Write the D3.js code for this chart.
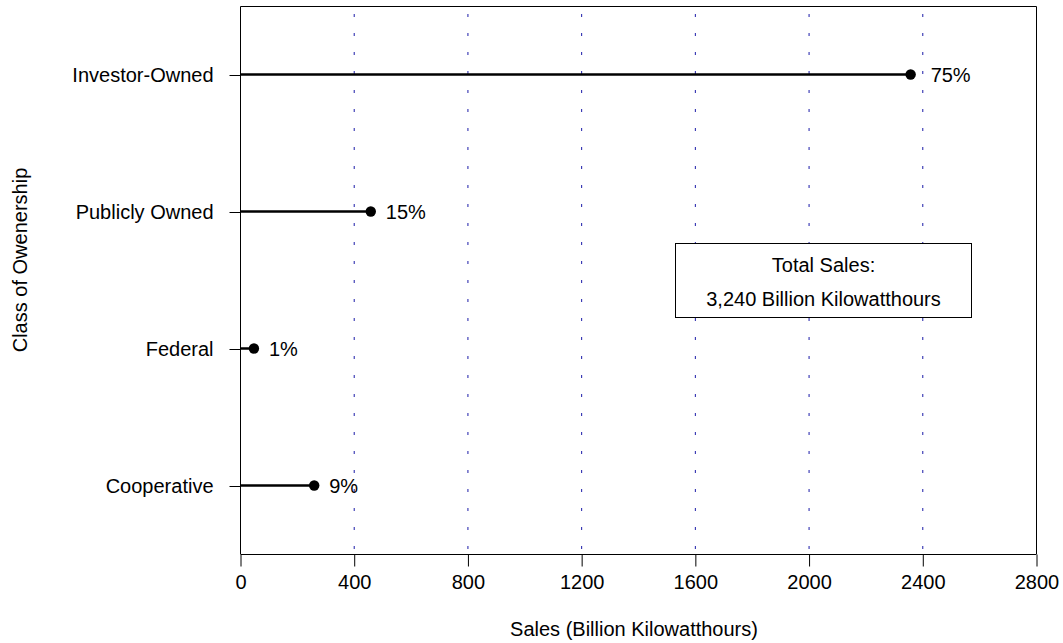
<!DOCTYPE html>
<html>
<head>
<meta charset="utf-8">
<script src="https://cdn.jsdelivr.net/npm/d3@7"></script>
<style>
  html, body { margin: 0; padding: 0; background: #fff; }
  svg { display: block; font-family: "Liberation Sans", Arial, sans-serif; }
</style>
</head>
<body>
<svg id="chart" width="1063" height="643"></svg>
<script>
// ---- data ----
const categories = ["Investor-Owned", "Publicly Owned", "Federal", "Cooperative"];
const sales = [2359, 460, 49, 261];
const shareLabels = ["75%", "15%", "1%", "9%"];
const xTicks = [0, 400, 800, 1200, 1600, 2000, 2400, 2800];
const gridValues = [0, 400, 800, 1200, 1600, 2000, 2400];
const annotationLines = ["Total Sales:", "3,240 Billion Kilowatthours"];
const xTitle = "Sales (Billion Kilowatthours)";
const yTitle = "Class of Owenership";

(function () {
// ---- layout ----
const svg = d3.select("#chart");
const pLeft = 240, pRight = 1036, pTop = 6, pBottom = 554;
const fontSize = 20;

const x = d3.scaleLinear().domain([0, 2800]).range([pLeft, pRight]);
// position 4 = top (Investor-Owned), 1 = bottom (Cooperative)
const y = d3.scaleLinear().domain([0.5, 4.5]).range([pBottom, pTop]);
const rowPos = categories.map((c, i) => categories.length - i);

// gridlines (dotted blue)
svg.append("g").selectAll("line").data(gridValues).join("line")
  .attr("x1", d => x(d) + 0.5).attr("x2", d => x(d) + 0.5)
  .attr("y1", pTop).attr("y2", pBottom)
  .attr("stroke", "#1a1aa8")
  .attr("stroke-width", 1)
  .attr("stroke-dasharray", "3,16")
  .attr("stroke-dashoffset", 11);

// box: top, left, right
svg.append("path")
  .attr("d", `M${pLeft + 0.5},${pBottom}V${pTop + 0.5}H${pRight + 0.5}V${pBottom}`)
  .attr("fill", "none").attr("stroke", "#000").attr("stroke-width", 1);

// x axis
const xAxis = d3.axisBottom(x).tickValues(xTicks).tickSize(12).tickPadding(8)
  .tickFormat(d3.format("d"));
const gx = svg.append("g").attr("transform", `translate(0.5,${pBottom + 0.5})`).call(xAxis);
gx.select(".domain").attr("d", `M${pLeft},0H${pRight}`).attr("stroke", "#000");
gx.selectAll(".tick line").attr("stroke", "#000");
gx.selectAll(".tick text")
  .attr("font-size", fontSize).attr("font-family", "Liberation Sans, Arial, sans-serif")
  .attr("fill", "#000");

// y axis
const yAxis = d3.axisLeft(y).tickValues(rowPos).tickSize(11).tickPadding(16)
  .tickFormat((d) => categories[categories.length - d]);
const gy = svg.append("g").attr("transform", `translate(${pLeft + 0.5},0.5)`).call(yAxis);
gy.select(".domain").remove();
gy.selectAll(".tick line").attr("stroke", "#000");
gy.selectAll(".tick text")
  .attr("font-size", fontSize).attr("font-family", "Liberation Sans, Arial, sans-serif")
  .attr("fill", "#000");

// lollipop lines
svg.append("g").selectAll("line").data(categories).join("line")
  .attr("x1", x(0)).attr("x2", (d, i) => x(sales[i]))
  .attr("y1", (d, i) => y(rowPos[i])).attr("y2", (d, i) => y(rowPos[i]))
  .attr("stroke", "#000").attr("stroke-width", 2.5);

// dots
svg.append("g").selectAll("circle").data(categories).join("circle")
  .attr("cx", (d, i) => x(sales[i])).attr("cy", (d, i) => y(rowPos[i]))
  .attr("r", 5.2).attr("fill", "#000");

// percent labels
svg.append("g").selectAll("text").data(shareLabels).join("text")
  .attr("x", (d, i) => x(sales[i]) + (i === 0 ? 20 : 15)).attr("y", (d, i) => y(rowPos[i]))
  .attr("dy", "0.35em")
  .attr("font-size", fontSize).attr("fill", "#000")
  .text(d => d);

// annotation box
const ann = svg.append("g");
ann.append("rect")
  .attr("x", 675.5).attr("y", 243.5).attr("width", 296).attr("height", 74)
  .attr("fill", "#fff").attr("stroke", "#000").attr("stroke-width", 1);
ann.selectAll("text").data(annotationLines).join("text")
  .attr("x", 823.5).attr("y", (d, i) => 272 + i * 34)
  .attr("text-anchor", "middle").attr("font-size", fontSize).attr("fill", "#000")
  .text(d => d);

// axis titles
svg.append("text")
  .attr("x", 634).attr("y", 636)
  .attr("text-anchor", "middle").attr("font-size", fontSize).attr("fill", "#000")
  .text(xTitle);
svg.append("text")
  .attr("transform", "translate(27,260) rotate(-90)")
  .attr("text-anchor", "middle").attr("font-size", fontSize).attr("fill", "#000")
  .text(yTitle);
})();
</script>
</body>
</html>
